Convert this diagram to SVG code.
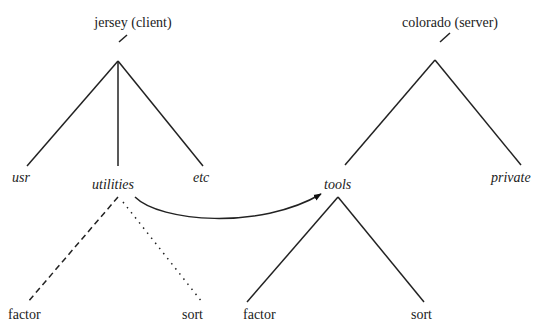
<svg xmlns="http://www.w3.org/2000/svg" width="542" height="323" viewBox="0 0 542 323">
<defs>
<style>
.t{font-family:'Liberation Serif','DejaVu Serif',serif;font-size:14px;fill:#222}
.i{font-style:italic}
.l{stroke:#222;stroke-width:1.5;fill:none}
</style>
<marker id="ah" viewBox="0 0 10 10" refX="9" refY="5" markerWidth="8" markerHeight="8" orient="auto" markerUnits="userSpaceOnUse">
<path d="M0,1 L10,5 L0,9 z" fill="#111"/>
</marker>
</defs>
<rect width="542" height="323" fill="#fff"/>
<g id="connectors">
<line class="l" x1="119" y1="42" x2="127" y2="35"/>
<line class="l" x1="118" y1="61" x2="27" y2="166"/>
<line class="l" x1="118" y1="61" x2="118" y2="166"/>
<line class="l" x1="118" y1="61" x2="203" y2="166"/>
<line class="l" x1="440" y1="42" x2="450" y2="33"/>
<line class="l" x1="435" y1="60" x2="345" y2="165"/>
<line class="l" x1="435" y1="60" x2="521" y2="165"/>
<line class="l" x1="118" y1="197" x2="27" y2="303" stroke-dasharray="6,4"/>
<line class="l" x1="123" y1="202" x2="202" y2="302" stroke-dasharray="1.5,5"/>
<line class="l" x1="338" y1="197" x2="247" y2="302"/>
<line class="l" x1="338" y1="197" x2="424" y2="302"/>
<path class="l" d="M135,197 C160,222 260,230 321,194" marker-end="url(#ah)"/>
</g>
<g id="jersey"><text class="t" x="133" y="27" text-anchor="middle" font-family="Liberation Serif, serif">jersey (client)</text></g>
<g id="colorado"><text class="t" x="450" y="27" text-anchor="middle" font-family="Liberation Serif, serif">colorado (server)</text></g>
<g id="usr"><text class="t i" x="12" y="182">usr</text></g>
<g id="utilities"><text class="t i" x="92" y="189">utilities</text></g>
<g id="etc"><text class="t i" x="193" y="182">etc</text></g>
<g id="tools"><text class="t i" x="324" y="189">tools</text></g>
<g id="private"><text class="t i" x="491" y="182">private</text></g>
<g id="factor1"><text class="t" x="8" y="319">factor</text></g>
<g id="sort1"><text class="t" x="182" y="319">sort</text></g>
<g id="factor2"><text class="t" x="243" y="319">factor</text></g>
<g id="sort2"><text class="t" x="411" y="319">sort</text></g>
</svg>
